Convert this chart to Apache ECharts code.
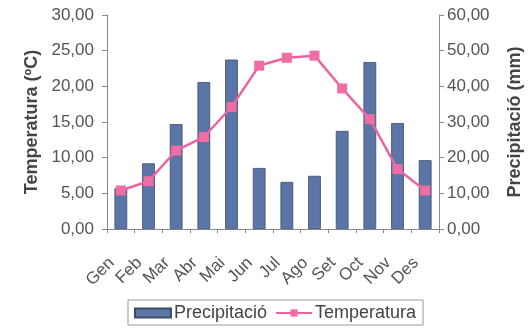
<!DOCTYPE html>
<html>
<head>
<meta charset="utf-8">
<script src="https://cdn.jsdelivr.net/npm/echarts@6/dist/echarts.min.js"></script>
<style>
  html, body { margin: 0; padding: 0; background: #fff; }
  #chart { width: 532px; height: 331px; }
</style>
</head>
<body>
<div id="chart"></div>
<script>
// Monthly climate: rainfall (mm, right axis) and mean temperature (ºC, left axis)
const months = ['Gen', 'Feb', 'Mar', 'Abr', 'Mai', 'Jun', 'Jul', 'Ago', 'Set', 'Oct', 'Nov', 'Des'];
const precipitacio = [11.4, 18.4, 29.4, 41.2, 47.5, 17.1, 13.2, 14.9, 27.5, 46.8, 29.7, 19.3];
const temperatura = [5.4, 6.7, 11.0, 12.9, 17.1, 22.9, 24.0, 24.3, 19.7, 15.4, 8.4, 5.4];

const fmt = v => v.toFixed(2).replace('.', ',');
const font = 'Liberation Sans, Arial, sans-serif';
const axisGray = '#8a8a8a';
const labelGray = '#555';

const chart = echarts.init(document.getElementById('chart'));
chart.setOption({
  backgroundColor: '#fff',
  animation: false,
  grid: { left: 107, right: 87, top: 15, bottom: 102 },
  legend: {
    left: 128, top: 300,
    padding: [4, 7, 3, 6],
    borderColor: '#999', borderWidth: 1, borderRadius: 0,
    itemWidth: 36, itemHeight: 9, itemGap: 8,
    textStyle: { fontFamily: font, fontSize: 18, color: '#444', padding: [0, 0, 0, -2] },
    data: [
      { name: 'Precipitació', icon: 'rect' },
      { name: 'Temperatura' }
    ]
  },
  xAxis: {
    type: 'category',
    data: months,
    axisLine: { lineStyle: { color: axisGray } },
    axisTick: { show: true, inside: false, length: 4, lineStyle: { color: axisGray } },
    axisLabel: {
      interval: 0, hideOverlap: false,
      rotate: 45, margin: 22, padding: [0, 13, 0, 0],
      fontFamily: font, fontSize: 17, color: labelGray
    }
  },
  yAxis: [
    {
      type: 'value', min: 0, max: 30, interval: 5,
      name: 'Temperatura (ºC)', nameLocation: 'middle', nameGap: 64, nameRotate: 90,
      nameTextStyle: { fontFamily: font, fontSize: 18, fontWeight: 'bold', color: '#444' },
      axisLine: { show: true, lineStyle: { color: axisGray } },
      axisTick: { show: true, length: 5, lineStyle: { color: axisGray } },
      splitLine: { show: false },
      axisLabel: { formatter: fmt, fontFamily: font, fontSize: 17, color: labelGray, margin: 13 }
    },
    {
      type: 'value', min: 0, max: 60, interval: 10,
      name: 'Precipitació (mm)', nameLocation: 'middle', nameGap: 67, nameRotate: 90,
      nameTextStyle: { fontFamily: font, fontSize: 18, fontWeight: 'bold', color: '#444' },
      axisLine: { show: true, lineStyle: { color: axisGray } },
      axisTick: { show: true, length: 5, lineStyle: { color: axisGray } },
      splitLine: { show: false },
      axisLabel: { formatter: fmt, fontFamily: font, fontSize: 17, color: labelGray, margin: 8 }
    }
  ],
  series: [
    {
      name: 'Precipitació', type: 'bar', yAxisIndex: 1,
      data: precipitacio, barWidth: '46%',
      itemStyle: { color: '#5b76a6', borderColor: '#3c4c6c', borderWidth: 0.8 }
    },
    {
      name: 'Temperatura', type: 'line', yAxisIndex: 0,
      data: temperatura,
      symbol: 'rect', symbolSize: 10,
      lineStyle: { color: '#ec639f', width: 2.5 },
      itemStyle: { color: '#f06ca4' }
    }
  ]
});
</script>
</body>
</html>
